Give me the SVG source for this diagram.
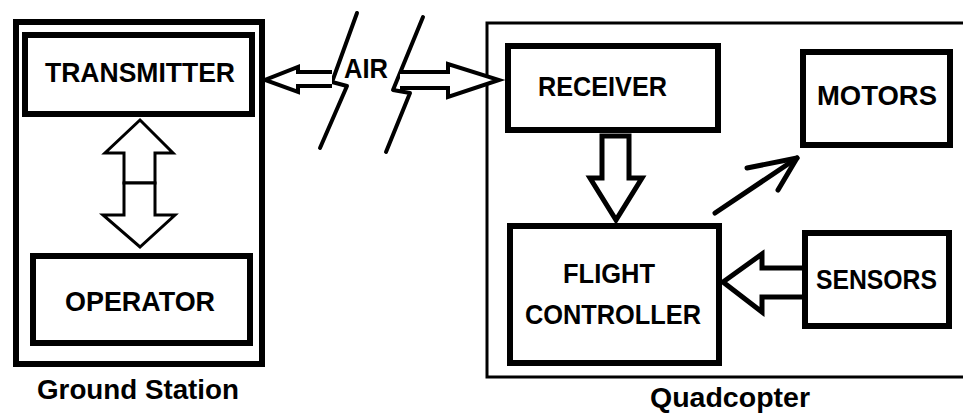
<svg xmlns="http://www.w3.org/2000/svg" width="963" height="414" viewBox="0 0 963 414">
<style>
.box{fill:#fff;stroke:#000;stroke-width:6}
.t{font-family:"Liberation Sans",Arial,sans-serif;font-weight:bold;font-size:28px;fill:#000}
.hollow{fill:#fff;stroke:#000;stroke-linejoin:miter}
.line{fill:none;stroke:#000;stroke-linecap:round;stroke-linejoin:round}
</style>
<rect width="963" height="414" fill="#fff"/>
<g id="ground-station">
<rect class="box" x="16" y="22" width="246" height="342"/>
<text class="t" x="37" y="399" textLength="202" lengthAdjust="spacingAndGlyphs">Ground Station</text>
</g>
<g id="quadcopter">
<path d="M963,23 H487 V377 H963" fill="none" stroke="#000" stroke-width="3"/>
<text class="t" x="650" y="407" textLength="160" lengthAdjust="spacingAndGlyphs">Quadcopter</text>
</g>
<g id="transmitter">
<rect class="box" x="25" y="35" width="227" height="79"/>
<text class="t" x="45" y="82" textLength="190" lengthAdjust="spacingAndGlyphs">TRANSMITTER</text>
</g>
<g id="operator">
<rect class="box" x="33" y="256" width="217" height="87"/>
<text class="t" x="65" y="311" textLength="150" lengthAdjust="spacingAndGlyphs">OPERATOR</text>
</g>
<g id="receiver">
<rect class="box" x="508" y="46" width="210" height="84"/>
<text class="t" x="538" y="96" textLength="129" lengthAdjust="spacingAndGlyphs">RECEIVER</text>
</g>
<g id="motors">
<rect class="box" x="803" y="52" width="147" height="93"/>
<text class="t" x="817" y="105" textLength="120" lengthAdjust="spacingAndGlyphs">MOTORS</text>
</g>
<g id="flight-controller">
<rect class="box" x="510" y="226" width="209" height="137"/>
<text class="t" x="563" y="283" textLength="92" lengthAdjust="spacingAndGlyphs">FLIGHT</text>
<text class="t" x="525" y="324" textLength="176" lengthAdjust="spacingAndGlyphs">CONTROLLER</text>
</g>
<g id="sensors">
<rect class="box" x="805" y="233" width="144" height="93"/>
<text class="t" x="816" y="289" textLength="121" lengthAdjust="spacingAndGlyphs">SENSORS</text>
</g>
<g id="air">
<polyline class="line" stroke-width="4" points="357,13 332,82 347,86 320,148"/>
<polyline class="line" stroke-width="4" points="423,17 393,90 410,93 386,152"/>
<text class="t" x="344" y="78" textLength="44" lengthAdjust="spacingAndGlyphs">AIR</text>
</g>
<g id="connectors">
<polygon class="hollow" stroke-width="3" points="124,183 124,153 105,153 140,120 173,153 155,153 155,183"/>
<polygon class="hollow" stroke-width="3" points="124,183 124,215 103,215 140,247 175,215 155,215 155,183"/>
<polyline class="hollow" stroke-width="4" points="332,72 298,72 298,67 265,80 298,92 298,86 332,86"/>
<polyline class="hollow" stroke-width="4" points="400,72 448,72 448,64 499,80 448,97 448,88 400,88"/>
<polygon class="hollow" stroke-width="5" points="602,136 629,136 629,178 642,178 616,220 590,178 602,178"/>
<polyline class="hollow" stroke-width="5" points="802,268 762,268 762,254 723,282 762,312 762,297 802,297"/>
<line class="line" stroke-width="5" x1="715" y1="213" x2="797" y2="158"/>
<polyline class="line" stroke-width="5" points="747,168 797,158 778,190"/>
</g>
</svg>
